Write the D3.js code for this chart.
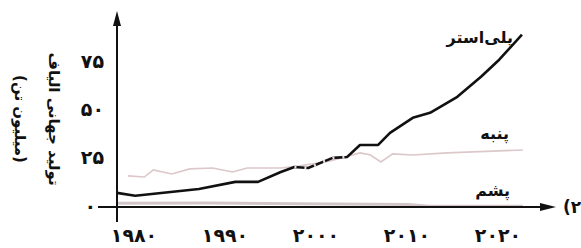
<!DOCTYPE html>
<html>
<head>
<meta charset="utf-8">
<script src="https://cdn.jsdelivr.net/npm/d3@7"></script>
<style>
  body { margin: 0; background: #fff; }
  svg { display: block; }
  text { font-family: "DejaVu Sans", sans-serif; font-weight: bold; fill: #111; }
</style>
</head>
<body>
<div id="chart"></div>
<script>
// values (million tonnes)
let polyYears  = [1980, 1982, 1989, 1993, 1995.5, 1998, 1999.5, 2001, 2003.7, 2005.3, 2006.7, 2008.7, 2010, 2012.5, 2014.4, 2017.4, 2020, 2022, 2024.5];
let polyValues = [7.3, 5.8, 9.3, 13.0, 13.0, 18.1, 20.7, 20.2, 25.4, 25.9, 32.1, 32.1, 38.3, 46.1, 48.7, 57, 67.4, 76.2, 89.1];

let cottonYears  = [1981.2, 1983, 1984, 1986, 1988, 1990.5, 1992.7, 1994.3, 1998, 2000, 2003.4, 2006.7, 2007.8, 2009, 2010.3, 2012.5, 2016.3, 2024.6];
let cottonValues = [16.1, 15.5, 19.2, 17.1, 19.7, 20.2, 18.1, 20.2, 20.2, 21.2, 23.8, 28, 27, 23.3, 27.5, 26.9, 28, 29.5];

let woolYears  = [1980, 1990, 2000, 2012, 2014, 2024.6];
let woolValues = [2.0, 2.1, 1.7, 1.3, 0.5, 0.4];

let xTicks = [1980, 1990, 2000, 2010, 2020];
let yTicks = [0, 25, 50, 75];

let seriesLabels = ["پلی‌استر", "پنبه", "پشم"];

function fa(n) {
    return String(n).replace(/[0-9]/g, d => "۰۱۲۳۴۵۶۷۸۹"[+d]);
}

let width = 581, height = 248;

let svg = d3.select("#chart").append("svg")
            .attr("width", width)
            .attr("height", height);

let x = d3.scaleLinear().domain([1980, 2020]).range([117, 481]);
let y = d3.scaleLinear().domain([0, 75]).range([207, 62]);

let line = d3.line().x(d => x(d[0])).y(d => y(d[1]));

let wool = d3.zip(woolYears, woolValues);
let cotton = d3.zip(cottonYears, cottonValues);
let poly = d3.zip(polyYears, polyValues);

svg.append("path")
    .attr("d", line(wool))
    .attr("fill", "none")
    .attr("stroke", "#d3c6c8")
    .attr("stroke-width", 3);

svg.append("path")
    .attr("d", line(cotton))
    .attr("fill", "none")
    .attr("stroke", "#dcc8ca")
    .attr("stroke-width", 1.6);

svg.append("path")
    .attr("d", line(poly))
    .attr("fill", "none")
    .attr("stroke", "#111")
    .attr("stroke-width", 2.6)
    .attr("stroke-linejoin", "round");

// the broken-looking stretch where cotton crosses polyester
svg.append("path")
    .attr("d", line(poly.filter(d => d[0] >= 1999.5 && d[0] <= 2005.3)))
    .attr("fill", "none")
    .attr("stroke", "#e9dfe0")
    .attr("stroke-width", 3)
    .attr("stroke-dasharray", "2,8");

// axes
svg.append("line")
    .attr("x1", x(1980)).attr("x2", x(1980))
    .attr("y1", 222).attr("y2", 22)
    .attr("stroke", "#111").attr("stroke-width", 2);

svg.append("path")
    .attr("d", "M" + x(1980) + ",11 L" + (x(1980) - 4) + ",26 L" + (x(1980) + 4) + ",26 Z")
    .attr("fill", "#111");

svg.append("line")
    .attr("x1", 98).attr("x2", 545)
    .attr("y1", y(0)).attr("y2", y(0))
    .attr("stroke", "#111").attr("stroke-width", 2);

svg.append("path")
    .attr("d", "M556," + y(0) + " L540," + (y(0) - 4) + " L540," + (y(0) + 4) + " Z")
    .attr("fill", "#111");

svg.selectAll(".ylab")
    .data(yTicks)
    .enter().append("text")
    .attr("class", "ylab")
    .attr("x", d => d === 0 ? 96 : 104)
    .attr("y", d => y(d))
    .attr("dy", "0.3em")
    .attr("text-anchor", "end")
    .style("font-size", "19px")
    .text(d => fa(d));

svg.selectAll(".xlab")
    .data(xTicks)
    .enter().append("text")
    .attr("class", "xlab")
    .attr("x", d => x(d) + 17)
    .attr("y", 228)
    .attr("dominant-baseline", "hanging")
    .attr("text-anchor", "middle")
    .style("font-size", "19px")
    .text(d => fa(d));

// y axis title, two lines read top to bottom
svg.append("text")
    .attr("transform", "translate(54,119) rotate(90)")
    .attr("dy", "0.35em")
    .attr("text-anchor", "middle")
    .style("font-size", "15px")
    .text("تولید جهانی الیاف");

svg.append("text")
    .attr("transform", "translate(20,119) rotate(90)")
    .attr("dy", "0.35em")
    .attr("text-anchor", "middle")
    .style("font-size", "15px")
    .text("(میلیون تن)");

// series labels
svg.append("text")
    .attr("x", 513).attr("y", 43)
    .attr("text-anchor", "end")
    .style("font-size", "16px")
    .text(seriesLabels[0]);

svg.append("text")
    .attr("x", 509).attr("y", 139)
    .attr("text-anchor", "end")
    .style("font-size", "16px")
    .text(seriesLabels[1]);

svg.append("text")
    .attr("x", 510).attr("y", 196)
    .attr("text-anchor", "end")
    .style("font-size", "16px")
    .text(seriesLabels[2]);

svg.append("text")
    .attr("x", 563).attr("y", y(0))
    .attr("dy", "0.35em")
    .style("font-size", "17px")
    .text("(۲");
</script>
</body>
</html>
